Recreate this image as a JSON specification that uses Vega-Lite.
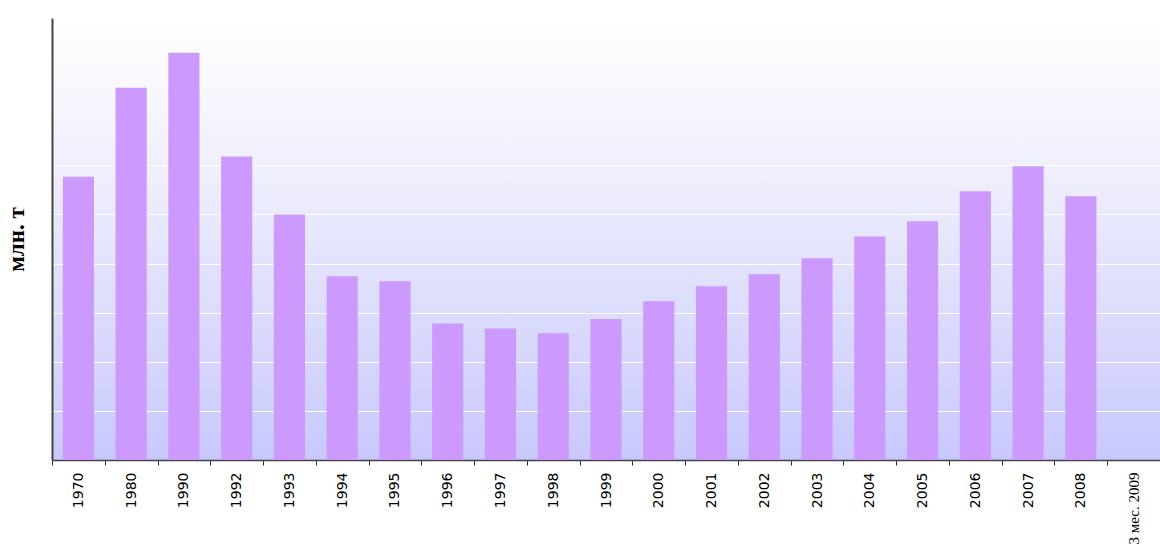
{
  "$schema": "https://vega.github.io/schema/vega-lite/v6.json",
  "width": 1108,
  "height": 442,
  "autosize": "none",
  "padding": {"left": 52, "top": 18, "right": 0, "bottom": 85},
  "background": "#ffffff",
  "config": {
    "view": {
      "stroke": null,
      "fill": {"gradient": "linear", "x1": 0, "y1": 0, "x2": 0, "y2": 1,
        "stops": [{"offset": 0, "color": "#ffffff"}, {"offset": 0.33, "color": "#f0f0fd"}, {"offset": 1, "color": "#c8c8fd"}]}
    }
  },
  "data": {
    "values": [
      {"year": "1970", "value": 5.77},
      {"year": "1980", "value": 7.58},
      {"year": "1990", "value": 8.29},
      {"year": "1992", "value": 6.18},
      {"year": "1993", "value": 5.0},
      {"year": "1994", "value": 3.74},
      {"year": "1995", "value": 3.64},
      {"year": "1996", "value": 2.78},
      {"year": "1997", "value": 2.68},
      {"year": "1998", "value": 2.58},
      {"year": "1999", "value": 2.87},
      {"year": "2000", "value": 3.23},
      {"year": "2001", "value": 3.54},
      {"year": "2002", "value": 3.78},
      {"year": "2003", "value": 4.11},
      {"year": "2004", "value": 4.55},
      {"year": "2005", "value": 4.86},
      {"year": "2006", "value": 5.47},
      {"year": "2007", "value": 5.98},
      {"year": "2008", "value": 5.37},
      {"year": "3 мес. 2009", "value": 0}
    ]
  },
  "mark": {"type": "bar", "color": "#cc99ff", "width": {"band": 0.59}},
  "encoding": {
    "x": {
      "field": "year", "type": "nominal", "sort": null,
      "scale": {"paddingInner": 0, "paddingOuter": 0},
      "axis": {
        "title": null,
        "labelAngle": -90,
        "labelFontSize": {"condition": {"test": "datum.value == '3 мес. 2009'", "value": 15}, "value": 14},
        "labelColor": "#000000",
        "labelFont": {"condition": {"test": "datum.value == '3 мес. 2009'", "value": "Liberation Serif"}, "value": "DejaVu Sans"},
        "labelPadding": 7,
        "labelOverlap": false,
        "labelLimit": 200,
        "tickBand": "extent",
        "tickColor": "#333333",
        "tickSize": 5,
        "domainColor": "#444444",
        "domainWidth": 1.5,
        "grid": false
      }
    },
    "y": {
      "field": "value", "type": "quantitative",
      "scale": {"domain": [0, 9], "nice": false},
      "axis": {
        "title": "млн. т",
        "titleFont": "Liberation Serif",
        "titleFontSize": 23,
        "titleFontWeight": "bold",
        "titleColor": "#000000",
        "titlePadding": 24,
        "labels": false,
        "ticks": false,
        "values": [1, 2, 3, 4, 5, 6],
        "grid": true,
        "gridColor": "#ffffff",
        "gridOpacity": 1,
        "gridWidth": 1,
        "domainColor": "#444444",
        "domainWidth": 2
      }
    }
  }
}
